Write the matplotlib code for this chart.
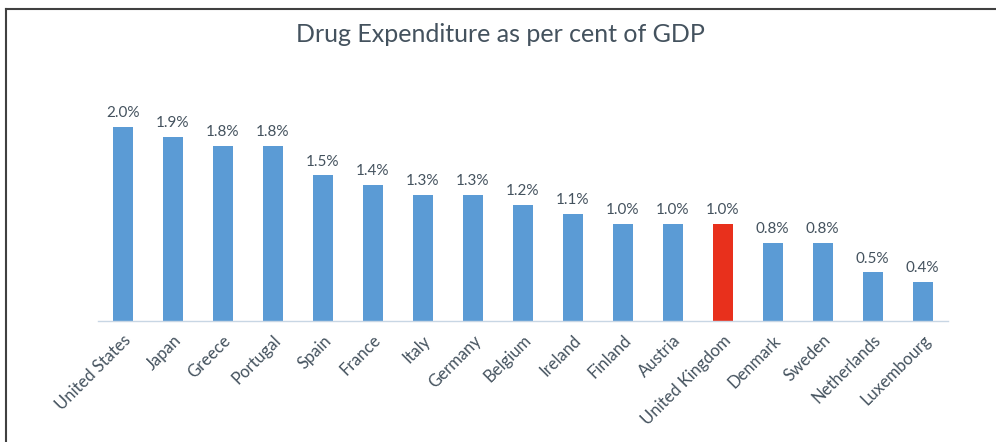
import matplotlib.pyplot as plt
from matplotlib.lines import Line2D

countries = ["United States", "Japan", "Greece", "Portugal", "Spain", "France", "Italy",
             "Germany", "Belgium", "Ireland", "Finland", "Austria", "United Kingdom",
             "Denmark", "Sweden", "Netherlands", "Luxembourg"]
values = [2.0, 1.9, 1.8, 1.8, 1.5, 1.4, 1.3, 1.3, 1.2, 1.1, 1.0, 1.0, 1.0, 0.8, 0.8, 0.5, 0.4]
highlight = "United Kingdom"

plt.rcParams['font.family'] = ['Lato', 'DejaVu Sans']
text_color = "#44525e"

fig = plt.figure(figsize=(9.96, 4.42), dpi=100)
ax = fig.add_axes([0.0984, 0.2738, 0.853, 0.5486])

colors = ["#e8301c" if c == highlight else "#5b9bd5" for c in countries]
x = range(len(countries))
bars = ax.bar(x, values, width=0.4, color=colors)

for xi, v in zip(x, values):
    ax.annotate(f"{v:.1f}%", (xi, v), xytext=(0, 5), textcoords="offset points",
                ha="center", va="bottom", fontsize=11, color=text_color)

ax.set_xlim(-0.5, 16.5)
ax.set_ylim(0, 2.5)
ax.set_xticks(list(x))
ax.set_xticklabels(countries, rotation=45, ha="right", rotation_mode="anchor",
                   fontsize=12, color=text_color)
ax.tick_params(axis="x", length=0, pad=8)
ax.set_yticks([])
for side in ["top", "right", "left"]:
    ax.spines[side].set_visible(False)
ax.spines["bottom"].set_color("#c8d6e4")
ax.spines["bottom"].set_linewidth(1)

fig.text(0.502, 0.922, "Drug Expenditure as per cent of GDP", ha="center", va="center",
         fontsize=18, color=text_color)

# frame around the chart
fig.add_artist(Line2D([6 / 996, 6 / 996], [0, 1 - 9 / 442], color="#404040", lw=1.5))
fig.add_artist(Line2D([6 / 996, 1], [1 - 9 / 442, 1 - 9 / 442], color="#404040", lw=1.5))

fig.savefig("out.png", dpi=100)
